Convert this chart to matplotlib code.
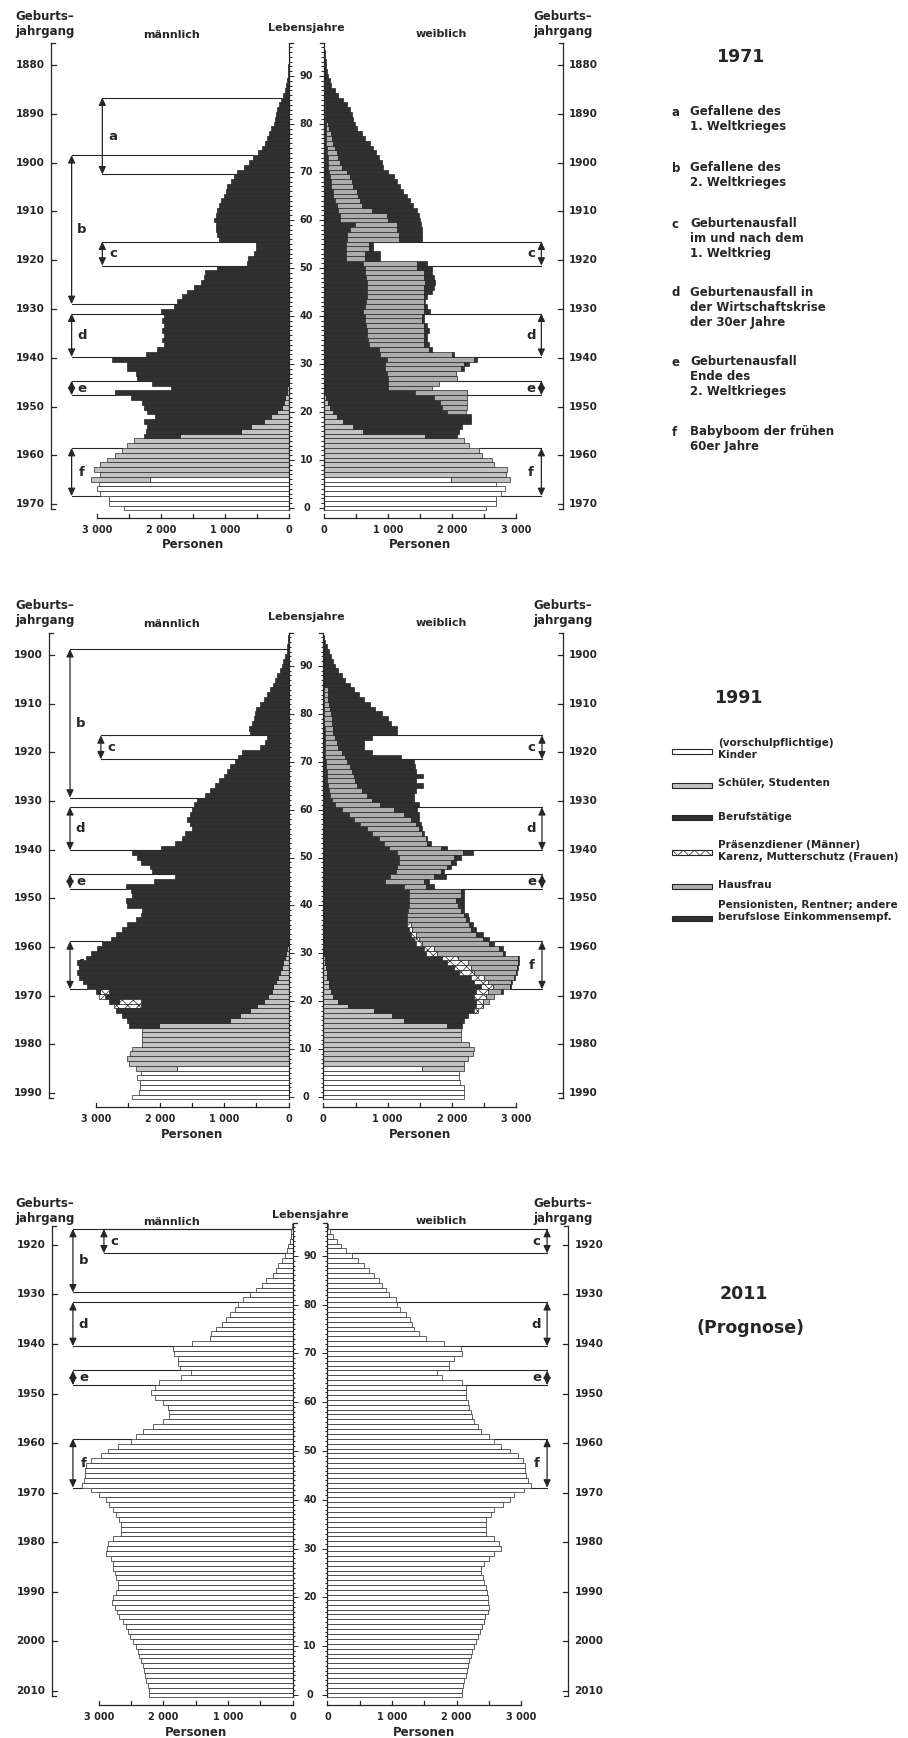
#!/usr/bin/env python

"""Alterspyramiden 1971, 1991 und 2011 (Prognose) mit Lebensunterhalt."""

import numpy as np

import matplotlib as mpl
mpl.use('Agg')
from matplotlib import pyplot as plt
from matplotlib.patches import FancyArrowPatch, Rectangle


# ---------------------------------------------------------------- data
# Personen je Lebensjahr (Index = Alter 0..96).  In den Teil-Listen steht
# der aeussere Rand einer Gruppe, None = bis zum Ende des Balkens.

M71_TOTAL = [
    2585, 2820, 2820, 2950, 3000, 2975, 3100, 2950, 3050, 2950,
    2845, 2715, 2610, 2530, 2430, 2270, 2245, 2220, 2270, 2090,
    2220, 2270, 2300, 2480, 2715, 1855, 2140, 2375, 2400, 2530,
    2530, 2765, 2245, 2060, 1960, 1985, 1960, 1985, 1960, 1985,
    1960, 2010, 1800, 1750, 1670, 1595, 1490, 1385, 1335, 1310,
    1125, 660, 650, 550, 525, 525, 1100, 1125, 1150, 1150,
    1180, 1150, 1125, 1100, 1070, 1020, 995, 970, 915, 865,
    810, 710, 630, 560, 485, 420, 380, 345, 315, 290,
    240, 215, 200, 190, 160, 135, 90, 70, 55, 40,
    25, 18, 12, 8, 5, 3, 2,
]
M71_KINDER = [None, None, None, None, None, None, 2170]                      # ab 0
M71_SCHUELER = [None] * 9 + [1700, 760, 600, 400, 290, 190, 110, 85, 60, 40, 30, 20]  # ab 6

F71_TOTAL = [
    2530, 2685, 2685, 2765, 2825, 2685, 2910, 2845, 2870, 2660,
    2635, 2475, 2425, 2265, 2190, 2085, 2110, 2160, 2295, 2295,
    2215, 2240, 2240, 2240, 2240, 1690, 1795, 2085, 2060, 2190,
    2265, 2400, 2030, 1690, 1640, 1610, 1610, 1640, 1610, 1560,
    1560, 1665, 1610, 1585, 1610, 1690, 1715, 1745, 1715, 1690,
    1690, 1610, 880, 880, 775, 775, 1535, 1535, 1535, 1520,
    1510, 1480, 1455, 1400, 1350, 1300, 1245, 1195, 1140, 1090,
    1010, 930, 905, 855, 815, 775, 720, 645, 590, 515,
    485, 460, 435, 410, 355, 300, 225, 170, 120, 95,
    70, 55, 40, 30, 20, 15, 8,
]
F71_KINDER = [None, None, None, None, None, None, 1980]                      # ab 0
F71_SCHUELER = [None] * 9 + [1585, 620, 460, 300, 200, 150, 95, 70, 40]     # ab 6
F71_BERUF = [None] * 5 + [                                                   # ab 15
    1925, 1850, 1820, 1715, 1430, 1010, 1010, 1010, 985, 960,
    960, 985, 880, 855, 700, 690, 680, 670, 660, 650,
    640, 620, 650, 660, 670, 670, 670, 670, 660, 650,
    640, 620, 345, 345, 345, 345, 356, 356, 408, 487,
    251, 251, 225, 199, 173, 147, 147, 120, 120, 94,
    84, 68, 68, 68, 52, 52, 42, 42, 42, 31,
    31, 21, 21, 21, 21, 21,
]
F71_HAUS = [                                                                 # ab 20
    None, None, None, None, None, None, None, None, None, 2150,
    2190, 2345, 2005, 1640, 1560, 1560, 1560, 1560, 1560, 1540,
    1540, 1560, 1560, 1560, 1560, 1560, 1560, 1585, 1560, 1560,
    1450, 1450, 645, 645, 700, 700, 1168, 1168, 1141, 1141,
    1010, 984, 749, 592, 565, 539, 513, 461, 435, 408,
    356, 277, 251, 225, 199, 173, 147, 136, 120, 84,
    68, 42, 42, 42, 42, 42,
]

M91_TOTAL = [
    2430, 2330, 2315, 2315, 2355, 2300, 2380, 2485, 2510, 2460,
    2430, 2275, 2275, 2275, 2275, 2485, 2510, 2585, 2690, 2715,
    2795, 2950, 3000, 3130, 3205, 3260, 3295, 3260, 3285, 3155,
    3075, 2975, 2895, 2765, 2690, 2585, 2510, 2380, 2300, 2275,
    2510, 2535, 2430, 2455, 2535, 2100, 1760, 2120, 2150, 2300,
    2355, 2430, 1990, 1760, 1655, 1605, 1500, 1530, 1580, 1530,
    1500, 1475, 1425, 1295, 1220, 1140, 1090, 1010, 960, 910,
    830, 780, 730, 445, 365, 340, 600, 610, 575, 545,
    520, 505, 445, 390, 340, 290, 250, 210, 185, 135,
    110, 85, 55, 30, 20, 10, 5,
]
M91_KINDER = [None, None, None, None, None, None, 1735]                      # ab 0
M91_SCHUELER = [None] * 9 + [2020, 910, 755, 600, 495, 390, 315, 265, 240,
                             195, 160, 135, 110, 85, 55, 40, 20]            # ab 6
M91_BERUF = [2300, 2300, 2850, 2790]                                         # ab 19
M91_PRAESENZ = [None, 2640, None, 2930]                                      # ab 19

F91_TOTAL = [
    2190, 2190, 2190, 2130, 2110, 2110, 2190, 2190, 2245, 2320,
    2350, 2270, 2140, 2140, 2140, 2150, 2190, 2245, 2400, 2480,
    2580, 2660, 2790, 2920, 2930, 2975, 3015, 3025, 3050, 3050,
    2830, 2790, 2660, 2580, 2480, 2375, 2320, 2270, 2245, 2190,
    2180, 2190, 2190, 2190, 1720, 1640, 1900, 1880, 1980, 2060,
    2140, 2320, 1930, 1670, 1615, 1565, 1540, 1515, 1485, 1485,
    1460, 1485, 1410, 1410, 1435, 1555, 1435, 1555, 1435, 1420,
    1410, 1200, 755, 625, 625, 755, 1150, 1150, 1045, 1000,
    915, 810, 730, 625, 550, 470, 415, 340, 285, 235,
    185, 145, 115, 80, 50, 25, 10,
]
F91_KINDER = [None, None, None, None, None, None, 1540]                      # ab 0
F91_SCHUELER = [None] * 9 + [1930, 1250, 1070, 780, 390, 235, 155, 115, 95,
                             80, 60, 50, 40, 30, 20]                        # ab 6
F91_BERUF = [None, None, None,                                               # ab 15
    2347, 2373, 2373, 2347, 2373, 2452, 2347, 2295, 2113, 2034,
    1930, 1852, 1591, 1565, 1435, 1408, 1356, 1330, 1304, 1304,
    1304, 1315, 1330, 1330, 1330, 1330, 1250, 965, 1043, 1122,
    1148, 1174, 1174, 1148, 1017, 939, 861, 756, 678, 574,
    469, 391, 287, 183, 130, 104, 94, 78, 63, 52,
    52, 42, 42, 31, 31, 26, 26, 26, 21, 21,
    16, 16, 10, 10, 10, 10, 10, 10,
]
F91_KARENZ = [None, 2478, 2478, 2530, 2556, 2634, 2556, 2504, 2347, 2295,    # ab 18
              2243, 2087, 1774, 1721, 1539, 1487, 1435, 1382, 1356]
F91_HAUS = [                                                                 # ab 19
    None, None, None, 2765, 2895, 2921, 2963, 3000, 3015, 3026,
    3026, 2791, 2739, 2582, 2478, 2373, 2295, 2269, 2217, 2191,
    2139, 2087, 2060, 2139, 2139, 1600, 1565, 1720, 1826, 1930,
    1982, 2034, 2165, 1826, 1617, 1591, 1539, 1487, 1435, 1356,
    1252, 1095, 887, 756, 678, 600, 522, 496, 469, 443,
    417, 365, 339, 287, 235, 209, 183, 156, 156, 141,
    130, 115, 104, 94, 78, 78, 78,
]

M11_TOTAL = [
    2215, 2225, 2240, 2265, 2290, 2305, 2320, 2345, 2370, 2395,
    2430, 2475, 2510, 2550, 2585, 2630, 2680, 2720, 2755, 2795,
    2785, 2730, 2705, 2705, 2730, 2755, 2785, 2785, 2810, 2885,
    2875, 2860, 2785, 2655, 2655, 2655, 2680, 2730, 2785, 2835,
    2895, 2990, 3120, 3260, 3225, 3210, 3210, 3195, 3120, 2965,
    2860, 2705, 2500, 2420, 2320, 2160, 2005, 1905, 1905, 1930,
    2005, 2135, 2190, 2135, 2060, 1720, 1570, 1750, 1775, 1775,
    1830, 1850, 1550, 1280, 1270, 1180, 1085, 1025, 975, 895,
    845, 765, 660, 560, 480, 405, 300, 250, 220, 170,
    110, 90, 65, 45, 30, 20, 10,
]
F11_TOTAL = [
    2080, 2090, 2100, 2115, 2145, 2160, 2170, 2195, 2220, 2245,
    2275, 2300, 2325, 2360, 2390, 2420, 2440, 2480, 2505, 2490,
    2480, 2470, 2455, 2430, 2405, 2375, 2375, 2430, 2505, 2585,
    2680, 2660, 2585, 2455, 2455, 2455, 2455, 2530, 2585, 2715,
    2820, 2895, 3050, 3155, 3105, 3075, 3060, 3060, 3025, 2950,
    2820, 2690, 2585, 2505, 2375, 2325, 2275, 2245, 2220, 2195,
    2170, 2145, 2145, 2145, 2090, 1780, 1700, 1885, 1885, 1960,
    2090, 2065, 1805, 1520, 1415, 1340, 1315, 1285, 1210, 1130,
    1080, 1055, 950, 900, 845, 795, 715, 640, 560, 480,
    380, 290, 210, 150, 90, 45, 15,
]

# Markierte Geburtsjahrgaenge
BRACKET_LETTERS = ['a', 'b', 'c', 'd', 'e', 'f']
BRACKET_FIRST = [1886, 1898, 1916, 1931, 1945, 1959]
BRACKET_LAST = [1901, 1928, 1920, 1939, 1947, 1968]

LEGEND_1971 = [
    'Gefallene des\n1. Weltkrieges',
    'Gefallene des\n2. Weltkrieges',
    'Geburtenausfall\nim und nach dem\n1. Weltkrieg',
    'Geburtenausfall in\nder Wirtschaftskrise\nder 30er Jahre',
    'Geburtenausfall\nEnde des\n2. Weltkrieges',
    'Babyboom der frühen\n60er Jahre',
]
LEGEND_1991 = [
    '(vorschulpflichtige)\nKinder',
    'Schüler, Studenten',
    'Berufstätige',
    'Präsenzdiener (Männer)\nKarenz, Mutterschutz (Frauen)',
    'Hausfrau',
    'Pensionisten, Rentner; andere\nberufslose Einkommensempf.',
]


# ---------------------------------------------------------------- style
W, H = 908, 1738
INK = '#262626'
DARK = '#303030'
GAP = 270.     # half gap between the two sides, in persons
OUTER = 4000.  # position of the birth year axes
ARROW_OUT, ARROW_IN = 3400., 2920.

STYLES = {
    'kinder': dict(fc='white', hatch=None),
    'schueler': dict(fc='#c2c2c2', hatch=None),
    'beruf': dict(fc=DARK, hatch=None),
    'praesenz': dict(fc='white', hatch='xxx'),
    'haus': dict(fc='#acacac', hatch=None),
    'pension': dict(fc=DARK, hatch=None),
    'leer': dict(fc='white', hatch=None),
}

mpl.rc('font', family='DejaVu Sans', weight='bold')
mpl.rc('hatch', linewidth=0.5, color=INK)

fig = plt.figure(figsize=(W / 100., H / 100.), dpi=100)


def fxy(px, py):
    return px / W, 1. - py / H


def stack(total, cats):
    total = np.asarray(total, float)
    prev = np.zeros(len(total))
    starts, widths = [], []
    for start, vals in cats:
        edge = prev.copy()
        for j, v in enumerate(vals):
            a = start + j
            e = total[a] if v is None else v
            edge[a] = min(max(e, prev[a]), total[a])
        starts.append(prev.copy())
        widths.append(edge - prev)
        prev = edge
    starts.append(prev.copy())
    widths.append(total - prev)
    return starts, widths


def draw_panel(ref, y0, ppy, cx, ppk, sides, male_br, female_br, top_age):
    top_py, bot_py = y0 - 104 * ppy, y0 + 9 * ppy
    axes = fig.add_axes([0., 1. - bot_py / H, 640. / W, (bot_py - top_py) / H])
    axes.set_xlim(-cx / ppk * 1000., (640. - cx) / ppk * 1000.)
    axes.set_ylim(-9, 104)
    axes.axis('off')
    dx = 1000. / ppk   # persons per pixel
    dy = 1. / ppy      # years per pixel

    # bars
    for s, (total, cats, styles) in zip((-1, 1), sides):
        ages = np.arange(len(total))
        starts, widths = stack(total, cats)
        for st, wd, key in zip(starts, widths, styles):
            m = wd > 0
            sty = STYLES[key]
            axes.barh(ages[m], s * wd[m], left=s * (GAP + st[m]), height=1.0,
                      color=sty['fc'], hatch=sty['hatch'], edgecolor=INK,
                      linewidth=0.5, zorder=3)

    # central age axis
    ages = np.arange(0, 97)
    for s in (-1, 1):
        xl = s * GAP
        axes.plot([xl, xl], [-0.5, 96.8], color=INK, lw=0.9, zorder=4)
        lens = np.where(ages % 10 == 0, 5., 2.5)
        axes.hlines(ages, xl, xl - s * lens * dx, color=INK, lw=0.7, zorder=4)
        axes.plot([xl, xl - s * 4 * dx], [96.8, 96.8], color=INK, lw=0.9, zorder=4)
    for a in range(0, 91, 10):
        axes.text(0, a, str(a), ha='center', va='center', fontsize=7, color=INK)

    # birth year axes
    years = list(range(ref - 91, ref, 10))
    for s in (-1, 1):
        xb = s * OUTER
        axes.plot([xb, xb], [-0.3, top_age + 0.6], color=INK, lw=0.9)
        for yb in (-0.3, top_age + 0.6):
            axes.plot([xb, xb - s * 4 * dx], [yb, yb], color=INK, lw=0.9)
        for yr in years:
            a = (ref - yr) * 1.016 - 0.2
            axes.plot([xb, xb - s * 5 * dx], [a, a], color=INK, lw=0.9)
            axes.text(xb + s * 6 * dx, a, str(yr), ha='right' if s < 0 else 'left',
                      va='center', fontsize=7.5, color=INK)

    # persons axes
    yb = -9.5 * dy
    for s in (-1, 1):
        axes.plot([s * GAP, s * (GAP + 3000)], [yb, yb], color=INK, lw=0.9)
        for v in range(0, 3001, 500):
            axes.plot([s * (GAP + v)] * 2, [yb, yb + 4 * dy], color=INK, lw=0.9)
        for v in range(0, 3001, 1000):
            lab = '0' if v == 0 else '{} 000'.format(v // 1000)
            axes.text(s * (GAP + v), -22 * dy, lab, ha='center', va='center',
                      fontsize=7, color=INK)
        axes.text(s * (GAP + 1500), -37 * dy, 'Personen', ha='center',
                  va='center', fontsize=8.5, color=INK)

    # brackets
    for s, letters, total in ((-1, male_br, sides[0][0]), (1, female_br, sides[1][0])):
        for letter in letters:
            i = BRACKET_LETTERS.index(letter)
            xval = ARROW_IN if (s < 0 and letter in 'ac') else ARROW_OUT
            hi = min(ref - BRACKET_FIRST[i] + 0.5, top_age)
            lo = ref - BRACKET_LAST[i] - 0.5
            for edge, inside in ((hi, int(round(hi - 0.5))), (lo, int(round(lo + 0.5)))):
                v = total[inside] if 0 <= inside < len(total) else 0
                axes.plot([s * (GAP + xval), s * (GAP + v)], [edge, edge],
                          color=INK, lw=0.8, zorder=2)
            axes.add_patch(FancyArrowPatch(
                (s * (GAP + xval), lo), (s * (GAP + xval), hi),
                arrowstyle='<|-|>,head_length=0.7,head_width=0.33',
                mutation_scale=6.5, color=INK, lw=0.9, shrinkA=0, shrinkB=0, zorder=2))
            axes.text(s * (GAP + xval - 10.5 * dx), (hi + lo) / 2., letter,
                      ha='center', va='center', fontsize=9.5, color=INK, zorder=1)

    # headers
    def ptext(px, py, txt, **kw):
        axes.text((px - cx) * dx, (y0 - py) * dy, txt, color=INK, clip_on=False, **kw)

    ptext(15, y0 - 484, 'Geburts–\njahrgang', ha='left', va='center',
          fontsize=8.5, linespacing=1.2)
    ptext(533, y0 - 484, 'Geburts–\njahrgang', ha='left', va='center',
          fontsize=8.5, linespacing=1.2)
    ptext(172, y0 - 473, 'männlich', ha='center', va='center', fontsize=8)
    ptext(cx, y0 - 480, 'Lebensjahre', ha='center', va='center', fontsize=8)
    ptext(441, y0 - 474, 'weiblich', ha='center', va='center', fontsize=8)


KIDS_ETC = ['kinder', 'schueler']

draw_panel(1971, 508, 4.80, 306.5, 64.0,
           [(M71_TOTAL, [(0, M71_KINDER), (6, M71_SCHUELER)],
             KIDS_ETC + ['beruf']),
            (F71_TOTAL, [(0, F71_KINDER), (6, F71_SCHUELER), (15, F71_BERUF), (20, F71_HAUS)],
             KIDS_ETC + ['beruf', 'haus', 'pension'])],
           'abcdef', 'cdef', 96.3)

draw_panel(1991, 1097, 4.79, 306.0, 64.3,
           [(M91_TOTAL, [(0, M91_KINDER), (6, M91_SCHUELER), (19, M91_BERUF), (19, M91_PRAESENZ)],
             KIDS_ETC + ['beruf', 'praesenz', 'pension']),
            (F91_TOTAL, [(0, F91_KINDER), (6, F91_SCHUELER), (15, F91_BERUF),
                         (18, F91_KARENZ), (19, F91_HAUS)],
             KIDS_ETC + ['beruf', 'praesenz', 'haus', 'pension'])],
           'bcdef', 'cdef', 96.3)

draw_panel(2011, 1695, 4.88, 310.0, 64.6,
           [(M11_TOTAL, [], ['leer']), (F11_TOTAL, [], ['leer'])],
           'bcdef', 'cdef', 95.5)


# ---------------------------------------------------------------- right column
fig.text(*fxy(740, 57), '1971', ha='center', va='center', fontsize=12.5, color=INK)
for letter, txt, py in zip(BRACKET_LETTERS, LEGEND_1971, [112, 168, 224, 293, 362, 432]):
    fig.text(*fxy(672, py), letter, ha='left', va='center', fontsize=8.5, color=INK)
    fig.text(*fxy(690, py - 7), txt, ha='left', va='top', fontsize=8.5,
             linespacing=1.2, color=INK)

fig.text(*fxy(738, 698), '1991', ha='center', va='center', fontsize=12.5, color=INK)
swatches = ['kinder', 'schueler', 'beruf', 'praesenz', 'haus', 'pension']
for key, txt, py_t, py_s in zip(swatches, LEGEND_1991,
                               [744, 785, 818, 846, 886, 907],
                               [751, 785, 818, 852, 886, 918]):
    x0, y0 = fxy(672, py_s + 2.5)
    fig.add_artist(Rectangle((x0, y0), 40. / W, 5. / H, transform=fig.transFigure,
                             facecolor=STYLES[key]['fc'], hatch=STYLES[key]['hatch'],
                             edgecolor=INK, linewidth=0.8))
    fig.text(*fxy(718, py_t - 6.5), txt, ha='left', va='top', fontsize=7.5,
             linespacing=1.25, color=INK)

fig.text(*fxy(744, 1294), '2011', ha='center', va='center', fontsize=12.5, color=INK)
fig.text(*fxy(750, 1328), '(Prognose)', ha='center', va='center', fontsize=12.5, color=INK)

fig.savefig('out.png', dpi=100, facecolor='white')
